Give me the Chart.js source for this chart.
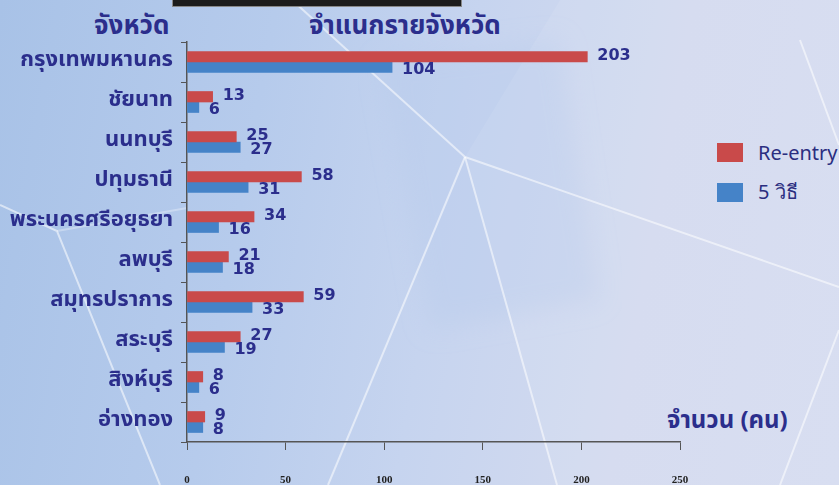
<!DOCTYPE html>
<html>
<head>
<meta charset="utf-8">
<script src="https://cdn.jsdelivr.net/npm/chart.js@4"></script>
<style>
  html, body { margin: 0; padding: 0; }
  body {
    width: 839px; height: 485px; overflow: hidden; position: relative;
    background: linear-gradient(100deg, #a8c2e7 0%, #b6cbec 30%, #c6d4ef 52%, #d3daef 75%, #d5dcf0 100%);
    font-family: "Noto Sans Thai", "Noto Sans", sans-serif;
  }
  #bg { position: absolute; left: 0; top: 0; }
  #wrap { position: absolute; left: 0; top: 0; width: 839px; height: 485px; }
  .txt { position: absolute; color: #2b2e8c; font-weight: bold; white-space: nowrap; line-height: 1; }
  #topbar { position: absolute; left: 172px; top: -4px; width: 288px; height: 9px; background: #1c1c1c; border: 1px solid #888; }
  #legend { position: absolute; left: 717px; top: 132px; }
  .item { display: flex; align-items: center; height: 40px; font-family: "Noto Sans", sans-serif; font-size: 20px; color: #2b2e80; white-space: nowrap; }
  .sw { width: 26px; height: 19px; margin-right: 15px; }
</style>
</head>
<body>
<svg id="bg" width="839" height="485">
  <defs>
    <filter id="soft"><feGaussianBlur stdDeviation="12" /></filter>
  </defs>
  <polygon points="380,60 560,40 600,300 430,330" fill="#b5c9ea" fill-opacity="0.35" filter="url(#soft)" />
  <polygon points="560,0 839,0 839,287 465,157" fill="#ffffff" fill-opacity="0.08" />
  <polygon points="557,485 465,157 839,287 839,485" fill="#ffffff" fill-opacity="0.08" />
  <g stroke="#ffffff" stroke-opacity="0.55" stroke-width="2" fill="none">
    <line x1="292" y1="0" x2="465" y2="157" />
    <line x1="465" y1="157" x2="839" y2="287" />
    <line x1="465" y1="157" x2="328" y2="485" />
    <line x1="465" y1="157" x2="557" y2="485" />
    <polyline points="0,205 57,231 160,485" />
    <line x1="800" y1="40" x2="839" y2="145" />
    <line x1="839" y1="330" x2="780" y2="485" />
  </g>
  <line x1="57" y1="231" x2="187" y2="208" stroke="#ffffff" stroke-opacity="0.3" stroke-width="2" />
</svg>
<div id="topbar"></div>
<div class="txt" style="left:94px; top:13px; font-size:26px;">จังหวัด</div>
<div class="txt" style="left:309px; top:13px; font-size:26px;">จำแนกรายจังหวัด</div>
<div class="txt" style="left:667px; top:409px; font-size:24px;">จำนวน (คน)</div>
<div id="legend"></div>
<div id="wrap"><canvas id="chart" width="839" height="485"></canvas></div>
<script>
const provinces = ['กรุงเทพมหานคร', 'ชัยนาท', 'นนทบุรี', 'ปทุมธานี', 'พระนครศรีอยุธยา',
  'ลพบุรี', 'สมุทรปราการ', 'สระบุรี', 'สิงห์บุรี', 'อ่างทอง'];
const reEntry = [203, 13, 25, 58, 34, 21, 59, 27, 8, 9];
const fiveMethods = [104, 6, 27, 31, 16, 18, 33, 19, 6, 8];
const xTicks = [0, 50, 100, 150, 200, 250];

const navy = '#2b2e8c';

// numbers at the end of each bar, the lower series a bit lower
const valueLabels = {
  id: 'valueLabels',
  afterDatasetsDraw(chart) {
    const ctx = chart.ctx;
    ctx.save();
    ctx.font = 'bold 16px "DejaVu Sans", sans-serif';
    ctx.fillStyle = navy;
    ctx.textBaseline = 'middle';
    chart.data.datasets.forEach((ds, i) => {
      const dy = i === 0 ? -1 : 3;
      chart.getDatasetMeta(i).data.forEach((bar, j) => {
        ctx.fillText(String(ds.data[j]), bar.x + 10, bar.y + dy);
      });
    });
    ctx.restore();
  }
};

const chart = new Chart(document.getElementById('chart'), {
  type: 'bar',
  data: {
    labels: provinces,
    datasets: [
      { label: 'Re-entry', data: reEntry, backgroundColor: '#c94a4a', barThickness: 10.5 },
      { label: '5 วิธี', data: fiveMethods, backgroundColor: '#4583c8', barThickness: 10.5 }
    ]
  },
  options: {
    indexAxis: 'y',
    responsive: false,
    animation: false,
    layout: { padding: { top: 42, right: 159, left: 0, bottom: 0 } },
    plugins: { legend: { display: false }, tooltip: { enabled: false } },
    scales: {
      y: {
        grid: { drawOnChartArea: false, tickLength: 6, color: '#555', offset: true },
        border: { color: '#555', width: 1.5 },
        ticks: {
          color: navy,
          font: { family: '"Noto Sans Thai", "Noto Sans", sans-serif', size: 22, weight: 'bold' },
          padding: 8
        },
        afterFit(scale) { scale.width = 187; }
      },
      x: {
        min: 0,
        max: 250,
        afterBuildTicks(scale) { scale.ticks = xTicks.map(v => ({ value: v })); },
        grid: { drawOnChartArea: false, tickLength: 8, color: '#555' },
        border: { color: '#555', width: 1.5 },
        ticks: {
          color: '#222',
          font: { family: '"Liberation Serif", serif', size: 11, weight: 'bold' },
          padding: 24
        },
        afterFit(scale) { scale.height = 43; }
      }
    }
  },
  plugins: [valueLabels]
});

const legend = document.getElementById('legend');
chart.data.datasets.forEach(ds => {
  const item = document.createElement('div');
  item.className = 'item';
  item.innerHTML = '<span class="sw" style="background:' + ds.backgroundColor + '"></span>' + ds.label;
  legend.appendChild(item);
});
</script>
</body>
</html>
